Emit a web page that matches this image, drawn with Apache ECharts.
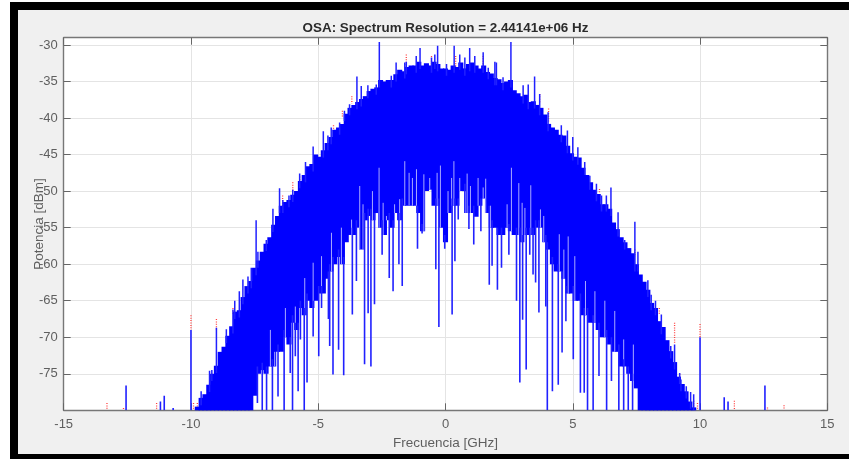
<!DOCTYPE html>
<html>
<head>
<meta charset="utf-8">
<script src="https://cdn.jsdelivr.net/npm/echarts@6/dist/echarts.min.js"></script>
<style>
html,body{margin:0;padding:0;background:#fff;width:849px;height:459px;overflow:hidden}
#frame{position:absolute;left:10px;top:2px;width:839px;height:457px;background:#000}
#chart{position:absolute;left:18px;top:10px;width:831px;height:444px;background:#f0f0f0;filter:blur(0.45px)}
</style>
</head>
<body>
<div id="frame"></div>
<div id="chart"></div>
<script>
const titleText = 'OSA: Spectrum Resolution = 2.44141e+06 Hz';
const xTitle = 'Frecuencia [GHz]';
const yTitle = 'Potencia [dBm]';

const bandFreq = [
-9.75,-9.6,-9.45,-9.3,-9.15,-9,-8.85,-8.7,-8.55,-8.4,
-8.25,-8.1,-7.95,-7.8,-7.65,-7.5,-7.35,-7.2,-7.05,-6.9,
-6.75,-6.6,-6.45,-6.3,-6.15,-6,-5.85,-5.7,-5.55,-5.4,
-5.25,-5.1,-4.95,-4.8,-4.65,-4.5,-4.35,-4.2,-4.05,-3.9,
-3.75,-3.6,-3.45,-3.3,-3.15,-3,-2.85,-2.7,-2.55,-2.4,
-2.25,-2.1,-1.95,-1.8,-1.65,-1.5,-1.35,-1.2,-1.05,-0.9,
-0.75,-0.6,-0.45,-0.3,-0.15,0,0.15,0.3,0.45,0.6,
0.75,0.9,1.05,1.2,1.35,1.5,1.65,1.8,1.95,2.1,
2.25,2.4,2.55,2.7,2.85,3,3.15,3.3,3.45,3.6,
3.75,3.9,4.05,4.2,4.35,4.5,4.65,4.8,4.95,5.1,
5.25,5.4,5.55,5.7,5.85,6,6.15,6.3,6.45,6.6,
6.75,6.9,7.05,7.2,7.35,7.5,7.65,7.8,7.95,8.1,
8.25,8.4,8.55,8.7,8.85,9,9.15,9.3,9.45,9.6,9.75];

const bandUpper = [
-79.5,-78.3,-77.8,-76.5,-75,-73.9,-72,-71.3,-69.8,-68.5,
-66.5,-66.3,-64.5,-63,-62.3,-60.5,-59.5,-58.3,-57.2,-56.3,
-54.6,-53.4,-52,-51.5,-51.2,-50.5,-50,-48.6,-47.8,-46.6,
-46.3,-45,-45.3,-44.4,-43.4,-42.6,-41.6,-41.3,-40.8,-39.4,
-38.6,-38.2,-37.8,-37.4,-37,-36.3,-36,-35.8,-34.8,-35,
-34.8,-34.8,-34,-33.4,-33.6,-33,-32.8,-32.8,-32.3,-32.8,
-32.5,-32.8,-32.3,-32.6,-33.2,-33.2,-33.4,-32.8,-33,-32.4,
-33.2,-32.6,-32.4,-32.8,-33.2,-32.8,-33.7,-33.9,-34.5,-34.7,
-35.2,-35,-34.8,-36.2,-36.6,-37,-36.8,-37.8,-37.7,-38.2,
-38.6,-39.5,-40.8,-41.3,-41.6,-42.3,-42.4,-43.8,-44.8,-45.3,
-45.4,-46.8,-47.8,-48.8,-49.8,-50.4,-51.8,-51.8,-52.4,-54.3,
-55.2,-56.3,-57,-57.8,-58.5,-60,-61.4,-62.4,-63.5,-65.3,
-66,-67.8,-68.6,-70.4,-71.9,-73.4,-75.4,-76.4,-77.4,-78.8,-79.6];

const bandFloor = [
-80,-80,-80,-80,-80,-80,-80,-80,-80,-80,
-80,-80,-80,-80,-80,-78,-75,-74.5,-75,-74,
-74,-72,-72,-70,-71,-68,-69,-66,-67,-65,
-66,-65,-64,-64,-62,-61,-60,-59,-60,-57,
-56,-56,-55,-58,-54,-53.4,-54,-53,-55,-56,
-54,-55,-53,-54,-52,-52,-52,-52,-53,-55.5,
-50,-49.8,-52,-52,-55,-57,-53,-52,-52,-50,
-50,-53,-53,-53.5,-52,-51,-53,-55,-55,-56,
-56,-55,-55.5,-56,-56,-57,-56,-56,-56,-55,
-55,-57,-58,-60,-61,-61,-62,-64,-64,-65,
-65,-67,-67,-68,-68,-69,-70,-70,-71,-72,
-72,-74,-74,-75,-76,-77,-80,-80,-80,-80,
-80,-80,-80,-80,-80,-80,-80,-80,-80,-80,-80];

const dipFreq = [
-7.39,-7.2,-7.03,-6.8,-6.58,-6.34,-6.1,-6.01,-5.9,-5.79,-5.7,-5.55,-5.44,-5.2,-4.98,-4.87,-4.6,-4.55,-4.42,-4.2,-4,
-3.66,-3.5,-3.18,-3.04,-2.93,-2.79,-2.49,-2.21,-2.06,-1.83,-1.7,-1.1,-0.92,-0.38,-0.26,-0.03,
0.26,0.37,0.5,0.76,0.92,1.11,1.39,1.72,1.83,2.04,2.2,2.49,2.79,2.92,3.03,3.17,3.31,3.44,3.54,3.67,3.94,4.0,
4.2,4.43,4.58,4.73,5.02,5.3,5.45,5.58,5.8,6.03,6.33,6.52,6.81,7,7.18,7.35];
const dipLow = [
-79,-80,-80,-80,-78.1,-80,-74.9,-80,-72.6,-77.4,-70.3,-80,-76.2,-69.9,-72.6,-66,-67.5,-71.2,-75.1,-71.7,-75.2,
-66.9,-62.3,-73.7,-66.7,-74,-65.5,-58.7,-61.9,-63.7,-60,-63,-57.9,-55.8,-60.7,-68.6,-57.9,
-66.9,-59.6,-53.9,-53,-55.2,-57.3,-55.5,-62.8,-60.2,-63.5,-60.5,-58.7,-65,-76.2,-67.6,-74.4,-58.7,-61.4,-62.5,-66.6,-65.8,-80,
-77.4,-76.5,-72.1,-67.8,-73,-77.6,-77.6,-80,-80,-75.3,-80,-76,-80,-80,-80,-80];

const slitFreq = [
-6.88,-6.71,-6.29,-5.9,-5.53,-5.2,-4.87,-4.48,-4.09,
-3.69,-3.37,-3.24,-2.87,-2.61,-2.45,-2.32,-2,-1.8,-1.6,-1.43,-1.3,-1.14,-0.85,-0.62,-0.33,-0.2,0.1,
0.24,0.33,0.56,0.85,0.98,1.28,1.48,1.58,1.77,2.42,2.59,2.88,3.01,3.12,3.35,3.73,3.86,
4.47,4.65,4.82,5.08,5.5,5.87,6.26,6.65,7,7.38];
const slitHigh = [
-69,-72,-66,-65.8,-61.9,-59.8,-58.9,-55.7,-55,
-53.9,-49.3,-51.8,-50,-46.8,-51.6,-53.4,-51.8,-51.1,-45.9,-47.5,-48.2,-47,-47.7,-48.2,-47.5,-46.5,-50,
-48.2,-45.9,-48.2,-47.6,-49.3,-48.2,-49.5,-48.3,-52,-51.8,-46.8,-48.9,-51.6,-52.3,-49.2,-52.5,-53.4,
-55.9,-58,-56.2,-58.9,-62.3,-63.7,-65,-66.4,-70.3,-71];

const peakFreq = [
-9.6,-9.27,-9.18,-9,-8.61,-8.35,-8.28,-8.1,-7.96,-7.76,-7.63,-7.44,-7.37,-7.04,-6.78,-6.52,-6.39,-6.15,-6,-5.73,-5.5,-5.2,-4.8,-4.62,-4.49,-4.16,-3.97,-3.77,-3.48,-3.31,-3.05,-2.72,-2.6,-2.13,-1.94,-1.6,-1.54,-1.15,-1,-0.55,-0.42,-0.31,
0.04,0.34,0.56,0.76,0.95,1.15,1.48,1.68,1.94,2,2.26,2.57,3.05,3.25,3.5,3.7,4.03,4.55,4.79,5,5.2,5.47,5.67,5.93,6.13,6.32,6.5,6.78,7.04,7.44,7.56,7.95,8.08,8.25,8.48,8.85,9,9.2,9.25,9.46,9.63,9.75];
const peakHigh = [
-77.4,-74.6,-74.5,-68.7,-68.9,-66.2,-65,-63.7,-62.1,-61.7,-60.5,-54,-58.3,-56.7,-52.4,-49.6,-51.2,-50.6,-49.8,-47.6,-46,-43.9,-41.8,-42.4,-41.3,-40.6,-39,-38.1,-34.3,-35.6,-35.5,-35.4,-29.6,-34.2,-32.4,-32.4,-32.3,-31.5,-30.4,-31.7,-31.3,-30.1,
-32.6,-30.1,-31.3,-31.7,-30.4,-31.5,-31,-33.1,-32.3,-32.4,-34.4,-29.6,-35.5,-35.4,-34.3,-36.7,-39.2,-41,-41.7,-42.6,-44,-46,-47.9,-49,-50.6,-50.6,-49.5,-52.9,-56.7,-54.2,-58.3,-62.2,-64.2,-65,-66.9,-71.2,-71,-74.9,-75.8,-76.7,-77.5,-77.8];

const outlierFreq = [-12.55,-11.2,-11.05,-10.7,-10,10,10.95,11.1,12.55];
const outlierHigh = [-76.6,-78.8,-78,-79.7,-69,-70,-78.2,-78.8,-76.6];

const redFreq = [-13.3,-12.65,-11.35,-10,-9.9,-9.75,-9.18,-9,-8.35,-6.4,-6,-5.73,-4.4,-4.05,-3.68,-1.54,-0.55,0.4,1.48,3.7,4.05,6.05,7.44,8.4,9,9.2,9.75,9.9,10,11.35,12.65,13.3];
const redHigh = [-79,-79.7,-79,-67,-79,-79,-75,-67.5,-66,-50.6,-48.8,-48,-41,-39,-37,-31.3,-31.5,-31.5,-31.5,-36.7,-38.7,-49.7,-58,-66,-68,-75,-78.7,-79,-68.2,-78.7,-79.6,-79.3];
const redLow = [-80,-80,-80,-69,-80,-80,-77,-69,-67,-54.5,-50,-48.8,-42,-40,-38,-33,-33,-33,-33,-38,-40.5,-50.3,-59,-67,-70.9,-77,-80,-80,-70,-80,-80,-80];

const xMin = -15, xMax = 15, xStep = 5;
const yMin = -80, yMax = -29, yStep = 5;

function nearest(arr, f) {
  let k = 0, best = Infinity;
  bandFreq.forEach((v, i) => { const d = Math.abs(v - f); if (d < best) { best = d; k = i; } });
  return arr[k];
}
const columnHalf = 0.1;

function columnItem(params, api) {
  const x = api.value(0), a = api.coord([x - columnHalf, api.value(1)]), b = api.coord([x + columnHalf, api.value(2)]);
  return { type: 'rect', shape: { x: a[0], y: a[1], width: b[0] - a[0], height: b[1] - a[1] }, style: { fill: '#0000ff' } };
}
function segmentItem(color, width, dash) {
  return function (params, api) {
    const a = api.coord([api.value(0), api.value(1)]), b = api.coord([api.value(0), api.value(2)]);
    return { type: 'line', shape: { x1: a[0], y1: a[1], x2: b[0], y2: b[1] },
      style: { stroke: color, lineWidth: width, lineDash: dash || null, fill: null } };
  };
}
function segSeries(data, color, width, dash) {
  return { type: 'custom', xAxisIndex: 0, yAxisIndex: 0, silent: true, clip: true, animation: false,
    encode: { x: 0, y: [1, 2] }, renderItem: segmentItem(color, width, dash), data };
}

const chart = echarts.init(document.getElementById('chart'), null, { renderer: 'canvas' });
const font = '"Liberation Sans", Arial, sans-serif';
const tickLine = { show: true, inside: true, length: 7, lineStyle: { color: '#666', width: 1 } };
const boxLine = { show: true, onZero: false, lineStyle: { color: '#777', width: 1.4 } };

chart.setOption({
  animation: false,
  backgroundColor: '#f0f0f0',
  title: { text: titleText, left: 422.5, top: 7, textAlign: 'center',
    textStyle: { fontFamily: font, fontSize: 13.4, fontWeight: 'bold', color: '#2b2b2b' } },
  grid: { left: 45.7, right: 21.7, top: 27.7, bottom: 43.7, show: true, backgroundColor: '#fff', borderWidth: 0, outerBoundsMode: 'none' },
  xAxis: [
    { type: 'value', min: xMin, max: xMax, interval: xStep, position: 'bottom',
      name: xTitle, nameLocation: 'middle', nameGap: 26,
      nameTextStyle: { fontFamily: font, fontSize: 13.5, color: '#5f5f5f' },
      axisLine: boxLine, axisTick: tickLine,
      axisLabel: { fontFamily: font, fontSize: 13, color: '#5f5f5f', margin: 8 },
      splitLine: { show: true, lineStyle: { color: '#e4e4e4', width: 1 } } },
    { type: 'value', min: xMin, max: xMax, interval: xStep, position: 'top',
      axisLine: boxLine, axisTick: tickLine, axisLabel: { show: false }, splitLine: { show: false } }
  ],
  yAxis: [
    { type: 'value', min: yMin, max: yMax, interval: yStep, position: 'left',
      name: yTitle, nameLocation: 'middle', nameGap: 17, nameMoveOverlap: false,
      nameTextStyle: { fontFamily: font, fontSize: 13.5, color: '#5f5f5f' },
      axisLine: boxLine, axisTick: tickLine,
      axisLabel: { fontFamily: font, fontSize: 13, color: '#5f5f5f', margin: 6, showMinLabel: false, showMaxLabel: false },
      splitLine: { show: true, lineStyle: { color: '#e4e4e4', width: 1 } } },
    { type: 'value', min: yMin, max: yMax, interval: yStep, position: 'right',
      axisLine: boxLine, axisTick: tickLine, axisLabel: { show: false }, splitLine: { show: false } }
  ],
  series: [
    segSeries(redFreq.map((f, i) => [f, redHigh[i], redLow[i]]), '#ff4040', 1.3, [1, 1.4]),
    { type: 'custom', xAxisIndex: 0, yAxisIndex: 0, silent: true, animation: false,
      encode: { x: 0, y: [1, 2] }, renderItem: columnItem,
      data: bandFreq.map((f, i) => [f, bandUpper[i], bandFloor[i]]) },
    segSeries(slitFreq.map((f, i) => [f, slitHigh[i], nearest(bandFloor, f)]), '#a8a8ff', 1),
    segSeries(dipFreq.map((f, i) => [f, nearest(bandFloor, f) + 1, dipLow[i]]), '#2020ff', 1.6),
    segSeries(peakFreq.map((f, i) => [f, peakHigh[i], nearest(bandUpper, f) - 1]), '#2020ff', 1.5),
    segSeries(outlierFreq.map((f, i) => [f, outlierHigh[i], yMin]), '#2020ff', 1.6)
  ]
});
</script>
</body>
</html>
